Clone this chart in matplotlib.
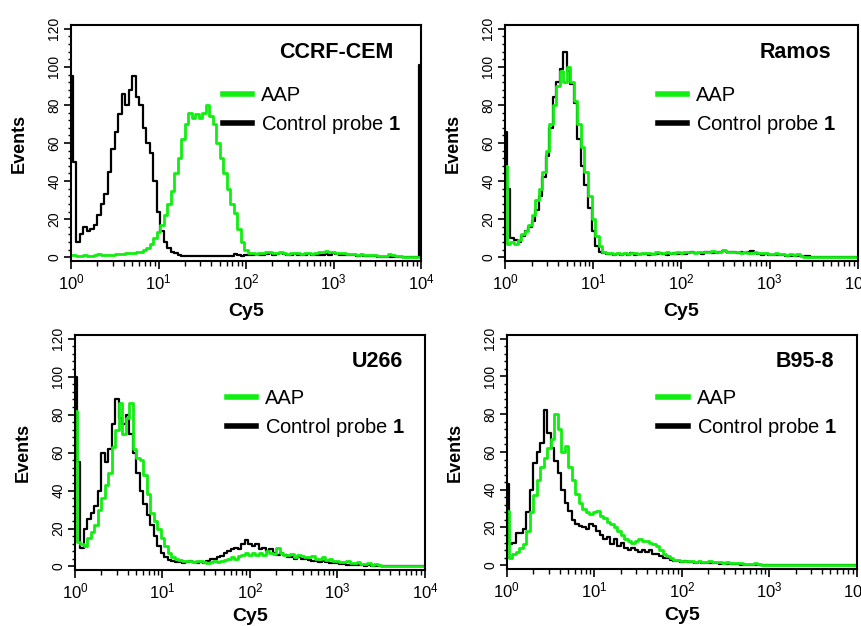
import numpy as np
import matplotlib
matplotlib.use("Agg")
import matplotlib.pyplot as plt
from matplotlib.ticker import MultipleLocator, LogLocator, NullFormatter
from matplotlib.lines import Line2D

plt.rcParams['font.family'] = ['Liberation Sans', 'DejaVu Sans']
plt.rcParams['mathtext.fontset'] = 'custom'
plt.rcParams['mathtext.rm'] = 'Liberation Sans'
plt.rcParams['mathtext.bf'] = 'Liberation Sans:bold'

# cell lines (panel titles)
cell_lines = ["CCRF-CEM", "Ramos", "U266", "B95-8"]

# event counts per channel, channels evenly spaced in log10(Cy5) from 10^0 to 10^4
cem_ctrl = [95, 50, 8, 12, 16, 14, 15, 17, 22, 28,
            33, 45, 57, 66, 75, 86, 80, 88, 95, 84,
            80, 68, 60, 55, 40, 24, 14, 8, 5, 3,
            2, 1, 0.5, 0.5, 0.5, 0.5, 0.5, 0.5, 0.5, 0.5,
            0.5, 0.5, 0.5, 0.5, 0.5, 0.5, 0.5, 1.5, 1, 0.5,
            1, 1, 1, 1.5, 1, 1, 1.5, 2, 1, 1.5,
            2, 1.5, 1, 1, 1.5, 1, 1, 1, 1.5, 1,
            1, 1, 1, 1.5, 1, 2, 1.5, 1, 1, 1,
            1, 1, 0.5, 1, 0.5, 0.5, 0.5, 0.5, 0, 0,
            0, 0, 0, 0, 0, 0, 0, 0, 0, 0,
            101]
cem_aap = [1, 1, 0.5, 0.5, 1, 0.5, 0.5, 1, 1.5, 1,
           1, 1, 1, 1.5, 1.5, 1.5, 2, 2, 2, 2.5,
           3, 4, 5, 7, 10, 13, 17, 22, 28, 35,
           44, 52, 62, 70, 76, 73, 75, 73, 76, 80,
           74, 70, 60, 52, 44, 36, 28, 23, 15, 8,
           4, 2, 2, 1.5, 2, 2, 2.5, 3, 2, 2,
           2.5, 2, 1.5, 2, 2, 2, 1.5, 2, 2, 1.5,
           2, 2.5, 3, 3.5, 2.5, 3, 2, 2, 2, 1.5,
           1.5, 1.5, 1, 1.5, 1, 1, 1, 1, 0.5, 0.5,
           0.5, 1.5, 1, 0.5, 0.5, 0, 0, 0, 0, 0,
           0]

ramos_ctrl = [66, 36, 10, 9, 8, 11, 14, 16, 19, 25,
              32, 42, 53, 68, 84, 92, 99, 108, 98, 91,
              81, 62, 48, 38, 26, 14, 6, 3, 2, 1.5,
              1.5, 1, 1.5, 1, 1.5, 1, 2, 1, 1.5, 1.5,
              1.5, 1, 1.5, 1.5, 2, 1.5, 1, 1.5, 2, 1.5,
              2, 1.5, 2, 2.5, 2, 2, 1.5, 2.5, 3, 2,
              2, 3, 3.5, 2.5, 3, 2.5, 2, 2.5, 2, 3,
              3.5, 2, 1.5, 1, 1.5, 1, 1, 1, 1, 1,
              0.5, 0.5, 0.5, 0.5, 0.5, 0.5, 0.5, 0, 0, 0,
              0, 0, 0, 0, 0, 0, 0, 0, 0, 0,
              0]
ramos_aap = [48, 7, 8, 7, 9, 12, 14, 17, 22, 30,
             36, 45, 56, 70, 80, 90, 98, 92, 100, 92,
             82, 70, 58, 45, 32, 20, 11, 6, 3, 2,
             2, 1.5, 2, 1.5, 2, 1.5, 2, 2, 1.5, 2,
             2, 2, 1.5, 2.5, 2, 2, 2.5, 2, 2, 2.5,
             2, 2.5, 3, 2.5, 2, 3, 2.5, 3, 2.5, 3.5,
             3, 2.5, 4, 3, 3, 2.5, 3, 2, 2.5, 2,
             2, 2.5, 2, 2, 2, 1.5, 1.5, 2, 1.5, 1.5,
             1, 1.5, 1, 1.5, 0.5, 0, 0, 0, 0, 0,
             0, 0, 0, 0, 0, 0, 0, 0, 0, 0,
             0]

u266_ctrl = [100, 55, 10, 20, 25, 28, 32, 40, 60, 55,
             62, 75, 88, 78, 75, 80, 70, 60, 49, 40,
             33, 27, 22, 16, 11, 7, 5, 3.5, 3, 2.5,
             2.5, 2, 2.5, 3, 2.5, 2, 2.5, 2, 3, 4,
             4, 5, 5.5, 7, 8, 9, 10, 9, 12, 14,
             12, 11, 12, 9, 10, 8, 9, 7, 6, 7,
             6, 5, 5, 4, 5, 4, 4, 3.5, 3, 3,
             2.5, 3, 2.5, 2, 2, 2, 1.5, 1.5, 1, 1,
             1, 1, 1, 0.5, 1, 0.5, 0.5, 0, 0, 0,
             0, 0, 0, 0, 0, 0, 0, 0, 0, 0,
             0]
u266_aap = [82, 13, 12, 11, 15, 18, 22, 30, 36, 43,
            49, 63, 72, 86, 70, 78, 86, 62, 57, 56,
            48, 38, 28, 24, 20, 15, 11, 7, 5, 4,
            3.5, 3, 3, 3, 2.5, 3, 3, 2.5, 2, 2.5,
            3, 2.5, 3, 3.5, 4, 5, 4, 5.5, 6, 7,
            6, 7, 6, 7, 6, 8, 7, 6.5, 10, 7,
            6, 6, 6.5, 5, 6, 5.5, 5, 5, 5.5, 4,
            4, 5, 3.5, 4, 3, 3, 2.5, 2.5, 3, 2,
            2, 2.5, 1.5, 1.5, 2, 1, 1.5, 1, 0.5, 0,
            0, 0, 0, 0, 0, 0, 0, 0, 0, 0,
            0]

b95_ctrl = [43, 11, 12, 17, 17, 19, 28, 40, 54, 60,
            65, 82, 70, 62, 55, 49, 40, 33, 29, 24,
            22, 21, 20, 19, 22, 21, 18, 16, 14, 15,
            11, 14, 10, 12, 9, 8, 9, 8, 7, 8,
            7, 8, 6, 6, 5, 4, 4, 3, 2.5, 2,
            1.5, 2, 1.5, 1.5, 1, 1.5, 1, 1, 1, 1,
            1, 0.5, 1, 0.5, 0.5, 0.5, 0.5, 0, 0, 0,
            0, 0, 0, 0, 0, 0, 0, 0, 0, 0,
            0, 0, 0, 0, 0, 0, 0, 0, 0, 0,
            0, 0, 0, 0, 0, 0, 0, 0, 0, 0,
            0]
b95_aap = [29, 4, 6, 7, 9, 11, 18, 28, 37, 45,
           52, 57, 62, 67, 80, 72, 60, 63, 52, 45,
           38, 33, 30, 28, 27, 28, 29, 26, 25, 23,
           22, 20, 18, 16, 14, 13, 12, 13, 14, 13,
           13, 12, 11, 10, 8, 6, 5, 4, 3, 3,
           2.5, 2, 2, 2, 1.5, 2, 1.5, 1.5, 2, 1.5,
           1.5, 1.5, 1, 1.5, 1, 1, 1, 1, 0.5, 0.5,
           0.5, 1, 0.5, 0, 0, 0, 0, 0, 0, 0,
           0, 0, 0, 0, 0, 0, 0, 0, 0, 0,
           0, 0, 0, 0, 0, 0, 0, 0, 0, 0,
           0]

ctrl_series = [cem_ctrl, ramos_ctrl, u266_ctrl, b95_ctrl]
aap_series = [cem_aap, ramos_aap, u266_aap, b95_aap]

green = '#11ee11'

fig = plt.figure(figsize=(8.62, 6.26), dpi=100)
# axes boxes in figure fraction: left, bottom, width, height
boxes = [[0.0824, 0.583, 0.406, 0.377],
         [0.586, 0.583, 0.409, 0.377],
         [0.087, 0.089, 0.406, 0.376],
         [0.588, 0.091, 0.406, 0.374]]
title_x = [0.92, 0.925, 0.937, 0.934]
title_y = [0.885, 0.885, 0.885, 0.885]
legend_y = [0.775, 0.775, 0.805, 0.805]

for k in range(4):
    ax = fig.add_axes(boxes[k])
    ctrl = np.array(ctrl_series[k])
    aap = np.array(aap_series[k])
    channels = np.logspace(0, 4, len(ctrl))
    ax.plot(channels, ctrl, color='black', lw=1.6, drawstyle='steps-mid')
    ax.plot(channels, aap, color=green, lw=2.0, drawstyle='steps-mid')

    ax.set_xscale('log')
    ax.set_xlim(1, 1e4)
    ax.set_ylim(-2, 122)
    ax.yaxis.set_major_locator(MultipleLocator(20))
    ax.yaxis.set_minor_locator(MultipleLocator(4))
    ax.xaxis.set_major_locator(LogLocator(base=10, numticks=10))
    ax.xaxis.set_minor_locator(LogLocator(base=10, subs=np.arange(2, 10), numticks=50))
    ax.xaxis.set_minor_formatter(NullFormatter())
    ax.tick_params(axis='x', which='major', length=6, width=1.2, labelsize=12, pad=2)
    ax.tick_params(axis='x', which='minor', length=3.5, width=1)
    ax.tick_params(axis='y', which='major', length=5, width=1.2, labelsize=10,
                   labelrotation=90, pad=2)
    ax.tick_params(axis='y', which='minor', length=2.5, width=1)
    for lab in ax.get_yticklabels():
        lab.set_va('center')
    for sp in ax.spines.values():
        sp.set_linewidth(1.5)

    ax.set_ylabel('Events', fontsize=13, fontweight='bold', labelpad=14)
    ax.set_xlabel('Cy5', fontsize=14, fontweight='bold',
                  labelpad=8 if k < 2 else 5)

    ax.text(title_x[k], title_y[k], cell_lines[k], transform=ax.transAxes,
            ha='right', va='center', fontsize=15.5, fontweight='bold')

    handles = [Line2D([], [], color=green, lw=4),
               Line2D([], [], color='black', lw=4)]
    ax.legend(handles, ['AAP', r'Control probe $\mathbf{1}$'],
              loc='upper left', bbox_to_anchor=(0.41, legend_y[k]), frameon=False,
              fontsize=14.5, handlelength=1.45, handletextpad=0.45,
              labelspacing=0.4, borderaxespad=0)

fig.savefig('out.png', dpi=100)
